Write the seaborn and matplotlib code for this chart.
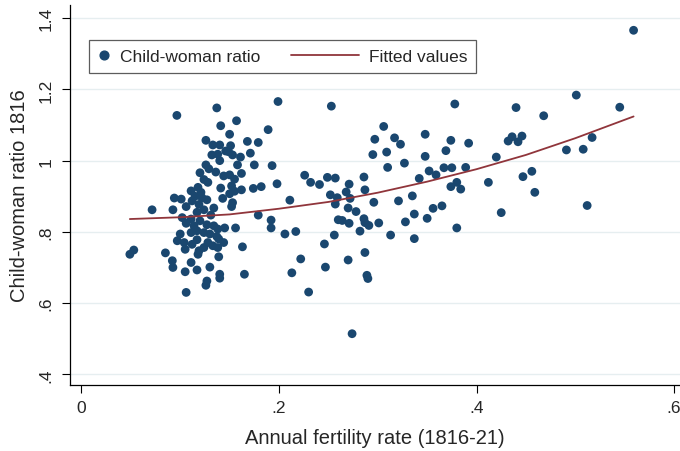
import numpy as np
import pandas as pd
import matplotlib
matplotlib.use("Agg")
import matplotlib.pyplot as plt
from matplotlib.lines import Line2D
from matplotlib.legend_handler import HandlerBase
import seaborn as sns

# annual fertility rate (1816-21)
fert = [
    0.049, 0.053, 0.0715, 0.085, 0.092, 0.0926, 0.0926, 0.094, 0.0966, 0.101,
    0.105, 0.106, 0.111, 0.117, 0.126, 0.137, 0.141, 0.150, 0.157, 0.168,
    0.179, 0.171, 0.189, 0.199, 0.193, 0.175, 0.198, 0.182, 0.174, 0.162,
    0.162, 0.161, 0.158, 0.179, 0.192, 0.192, 0.156, 0.145, 0.163, 0.165,
    0.139, 0.140, 0.140, 0.130, 0.127, 0.126,
    # dense cluster
    0.133, 0.140, 0.132, 0.138, 0.149, 0.151, 0.153, 0.126, 0.129, 0.136,
    0.140, 0.120, 0.124, 0.128, 0.144, 0.150, 0.155, 0.141, 0.143, 0.152,
    0.150, 0.155, 0.153, 0.152, 0.118, 0.121, 0.111, 0.115, 0.122, 0.127,
    0.112, 0.106, 0.119, 0.134, 0.131, 0.124, 0.117, 0.102, 0.106, 0.111,
    0.114, 0.120, 0.127, 0.134, 0.138, 0.111, 0.117, 0.124, 0.130, 0.137,
    0.100, 0.097, 0.104, 0.105, 0.112, 0.117, 0.119, 0.124, 0.128, 0.133,
    0.138, 0.144, 0.118, 0.139, 0.146,
    # middle
    0.206, 0.217, 0.211, 0.222, 0.213, 0.230, 0.226, 0.232, 0.241, 0.249,
    0.257, 0.253, 0.252, 0.259, 0.257, 0.260, 0.264, 0.256, 0.246, 0.247,
    0.271, 0.268, 0.272, 0.270, 0.278, 0.271, 0.270, 0.274, 0.286, 0.287,
    0.286, 0.287, 0.291, 0.282, 0.287, 0.289, 0.290, 0.296, 0.301, 0.295,
    0.297, 0.306, 0.309, 0.310, 0.317, 0.323, 0.327, 0.313, 0.321, 0.328,
    0.335, 0.337, 0.337, 0.342, 0.348, 0.348, 0.352, 0.359, 0.350, 0.356,
    0.365, 0.367, 0.369, 0.374, 0.375, 0.378, 0.374, 0.380, 0.384, 0.380,
    0.389, 0.392,
    # right
    0.412, 0.420, 0.425, 0.432, 0.436, 0.440, 0.442, 0.446, 0.447, 0.456,
    0.459, 0.468, 0.491, 0.501, 0.508, 0.512, 0.517, 0.545, 0.559,
]

# child-woman ratio 1816
cwr = [
    0.737, 0.749, 0.862, 0.741, 0.719, 0.700, 0.862, 0.895, 1.127, 0.892,
    0.688, 0.630, 0.714, 0.693, 1.057, 1.148, 1.098, 1.074, 1.112, 1.054,
    1.051, 1.021, 1.087, 1.166, 0.986, 0.988, 0.935, 0.927, 0.922, 0.918,
    0.964, 1.010, 0.988, 0.847, 0.833, 0.811, 0.811, 0.811, 0.758, 0.681,
    0.730, 0.681, 0.670, 0.701, 0.662, 0.650,
    1.044, 1.044, 1.016, 1.018, 1.025, 1.042, 1.016, 0.988, 0.977, 0.968,
    1.000, 0.966, 0.947, 0.939, 0.957, 0.960, 0.948, 0.923, 0.894, 0.929,
    0.907, 0.914, 0.882, 0.871, 0.925, 0.911, 0.915, 0.900, 0.896, 0.890,
    0.887, 0.871, 0.877, 0.867, 0.847, 0.862, 0.855, 0.840, 0.824, 0.836,
    0.817, 0.831, 0.820, 0.817, 0.808, 0.798, 0.803, 0.798, 0.794, 0.787,
    0.794, 0.775, 0.770, 0.751, 0.765, 0.778, 0.747, 0.756, 0.770, 0.761,
    0.756, 0.770, 0.737, 0.780, 1.027,
    0.794, 0.801, 0.889, 0.724, 0.685, 0.631, 0.959, 0.939, 0.933, 0.953,
    0.951, 1.153, 0.904, 0.896, 0.878, 0.834, 0.832, 0.791, 0.766, 0.701,
    0.934, 0.912, 0.894, 0.867, 0.857, 0.824, 0.721, 0.514, 0.954, 0.918,
    0.837, 0.826, 0.818, 0.802, 0.742, 0.678, 0.669, 0.883, 0.825, 1.017,
    1.060, 1.096, 1.024, 0.981, 1.064, 1.046, 0.993, 0.791, 0.887, 0.828,
    0.901, 0.850, 0.781, 0.950, 1.074, 1.012, 0.971, 0.960, 0.838, 0.866,
    0.873, 0.980, 1.028, 1.057, 0.980, 1.159, 0.927, 0.939, 0.920, 0.811,
    0.981, 1.049,
    0.939, 1.010, 0.854, 1.055, 1.067, 1.149, 1.053, 1.069, 0.955, 0.970,
    0.911, 1.126, 1.030, 1.184, 1.032, 0.874, 1.065, 1.150, 1.366,
]

# fitted values (quadratic fit)
fit_x = [0.049, 0.10, 0.15, 0.20, 0.25, 0.30, 0.35, 0.40, 0.45, 0.50, 0.559]
fit_y = [0.836, 0.841, 0.849, 0.865, 0.884, 0.910, 0.941, 0.976, 1.016, 1.063, 1.124]

df = pd.DataFrame({"fert": fert, "cwr": cwr})
fit = pd.DataFrame({"fert": fit_x, "cwr": fit_y})

navy = "#1a476f"
maroon = "#90353b"


class LongLineHandler(HandlerBase):
    # legend line that reaches back into the column gap, like Stata's legend keys
    def __init__(self, extra, **kw):
        super().__init__(**kw)
        self.extra = extra

    def create_artists(self, legend, orig_handle, xdescent, ydescent,
                       width, height, fontsize, trans):
        y = height / 2 - ydescent
        line = Line2D([-xdescent - self.extra, width - xdescent], [y, y],
                      color=orig_handle.get_color(), lw=orig_handle.get_linewidth())
        line.set_transform(trans)
        return [line]


sns.set_theme(style="white")
plt.rcParams["font.family"] = ["Liberation Sans", "DejaVu Sans"]

fig = plt.figure(figsize=(6.8, 4.52), dpi=100)
ax = fig.add_axes([70 / 680, 1 - 386 / 452, 1 - 70 / 680, (386 - 6) / 452])

sns.scatterplot(data=df, x="fert", y="cwr", ax=ax, color=navy, s=40,
                edgecolor="none", zorder=3, legend=False)
sns.lineplot(data=fit, x="fert", y="cwr", ax=ax, color=maroon, lw=1.3,
             zorder=4, legend=False)

ax.set_xlim(-0.0116, 0.606)
ax.set_ylim(0.370, 1.437)
ax.set_xticks([0, 0.2, 0.4, 0.6])
ax.set_xticklabels(["0", ".2", ".4", ".6"])
ax.set_yticks([0.4, 0.6, 0.8, 1.0, 1.2, 1.4])
ax.set_yticklabels([".4", ".6", ".8", "1", "1.2", "1.4"], rotation=90, va="center")
ax.grid(axis="y", color="#e6eef0", lw=1.0)
ax.set_axisbelow(True)

for side in ["top", "right"]:
    ax.spines[side].set_visible(False)
for side in ["left", "bottom"]:
    ax.spines[side].set_color("black")
    ax.spines[side].set_linewidth(0.9)

ax.tick_params(axis="both", which="major", direction="out", length=6, width=0.8,
               color="black", labelsize=12.5, bottom=True, left=True)
ax.tick_params(axis="y", pad=6)
ax.tick_params(axis="x", pad=5)
ax.set_xlabel("Annual fertility rate (1816-21)", fontsize=14.5, labelpad=9)
ax.set_ylabel("Child-woman ratio 1816", fontsize=14.5, labelpad=7)

dot = Line2D([], [], marker="o", ls="none", color=navy, markersize=6.3)
fl = Line2D([], [], color=maroon, lw=1.3)
leg = ax.legend([dot, fl], ["Child-woman ratio", "Fitted values"],
                handler_map={fl: LongLineHandler(40)},
                loc="upper left", bbox_to_anchor=(19 / 610, 1 - 35 / 380),
                borderaxespad=0, ncol=2, fontsize=12.5, frameon=True,
                fancybox=False, borderpad=0.52, handlelength=0.7,
                handletextpad=0.55, columnspacing=5.0)
leg.get_frame().set_edgecolor("#333333")
leg.get_frame().set_linewidth(0.9)

fig.savefig("out.png", dpi=100)
